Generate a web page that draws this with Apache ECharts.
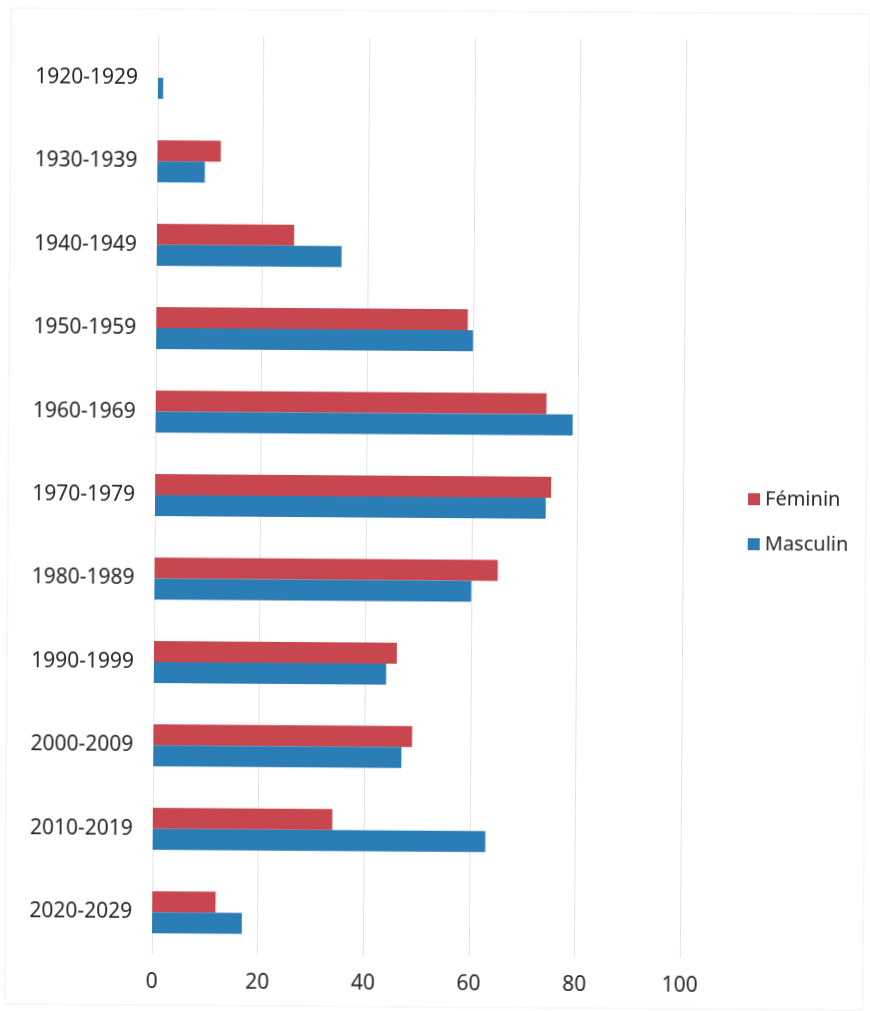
<!DOCTYPE html>
<html>
<head>
<meta charset="utf-8">
<script src="https://cdn.jsdelivr.net/npm/echarts@6/dist/echarts.min.js"></script>
<style>
html,body{margin:0;padding:0;background:#fff;}
#chart{width:870px;height:1011px;transform:rotate(0.4deg);transform-origin:435px 505px;}
</style>
</head>
<body>
<div id="chart"></div>
<script>
var categories = ['1920-1929','1930-1939','1940-1949','1950-1959','1960-1969','1970-1979','1980-1989','1990-1999','2000-2009','2010-2019','2020-2029'];
var feminin = [0, 12, 26, 59, 74, 75, 65, 46, 49, 34, 12];
var masculin = [1, 9, 35, 60, 79, 74, 60, 44, 47, 63, 17];
var xTicks = [0, 20, 40, 60, 80, 100];

var chart = echarts.init(document.getElementById('chart'), null, {renderer:'canvas'});
var font = '"Noto Sans", sans-serif';
chart.setOption({
  animation:false,
  backgroundColor:'#fff',
  graphic:[{type:'rect',shape:{x:8,y:11,width:858,height:996},style:{fill:'none',stroke:'#f0f0f0',lineWidth:1},silent:true,z:-1}],
  grid:{left:155,right:187,top:38,bottom:55,containLabel:false},
  legend:{
    orient:'vertical',left:743,top:482,
    itemWidth:12,itemHeight:12,itemGap:25,
    icon:'rect',
    textStyle:{fontFamily:font,fontSize:20,color:'#262626'},
    data:['Féminin','Masculin']
  },
  xAxis:{
    type:'value',min:xTicks[0],max:xTicks[xTicks.length-1],interval:20,
    axisLine:{show:false},axisTick:{show:false},
    axisLabel:{fontFamily:font,fontSize:21,color:'#262626',margin:18},
    splitLine:{show:true,lineStyle:{color:'#e2e2e2',width:1}}
  },
  yAxis:{
    type:'category',data:categories,inverse:true,
    axisLine:{show:false},axisTick:{show:false},
    axisLabel:{fontFamily:font,fontSize:21,color:'#262626',margin:20}
  },
  series:[
    {name:'Féminin',type:'bar',data:feminin,barWidth:21,barGap:'0%',itemStyle:{color:'#c8474f'}},
    {name:'Masculin',type:'bar',data:masculin,barWidth:21,barGap:'0%',itemStyle:{color:'#2b7db5'}}
  ]
});
</script>
</body>
</html>
